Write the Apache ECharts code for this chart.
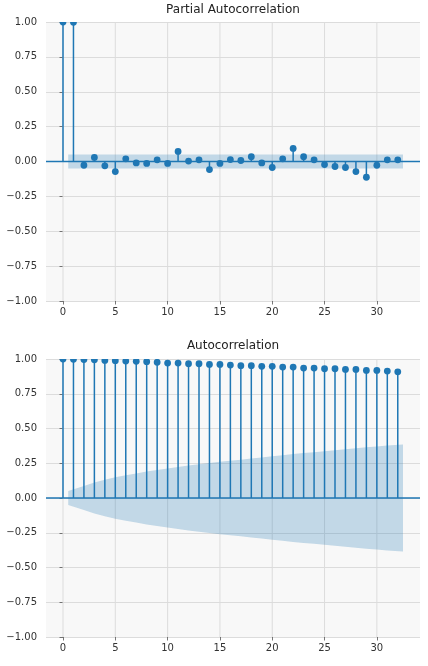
<!DOCTYPE html>
<html><head><meta charset="utf-8">
<script src="https://cdn.jsdelivr.net/npm/echarts@6/dist/echarts.min.js"></script>
<style>html,body{margin:0;padding:0;background:#fff}#c{width:428px;height:666px}</style>
</head><body><div id="c"></div>
<script>
// ---- data ----
const lags = [0,1,2,3,4,5,6,7,8,9,10,11,12,13,14,15,16,17,18,19,20,21,22,23,24,25,26,27,28,29,30,31,32];
const pacfValues = [1.0,0.998,-0.027,0.029,-0.031,-0.072,0.019,-0.010,-0.014,0.012,-0.014,0.072,0.003,0.012,-0.058,
  -0.014,0.014,0.007,0.034,-0.010,-0.043,0.019,0.094,0.034,0.012,-0.022,-0.036,-0.043,-0.072,-0.113,-0.027,0.012,0.012];
const acfValues = [1.0,0.998,0.996,0.994,0.990,0.988,0.985,0.983,0.981,0.976,0.971,0.971,0.966,0.966,0.961,
  0.961,0.956,0.952,0.952,0.947,0.947,0.942,0.942,0.935,0.935,0.930,0.930,0.925,0.925,0.918,0.918,0.913,0.908];
// confidence band half-widths for lags 1..32
const pacfBand = [0.05,0.05,0.05,0.05,0.05,0.05,0.05,0.05,0.05,0.05,0.05,0.05,0.05,0.05,0.05,0.05,
  0.05,0.05,0.05,0.05,0.05,0.05,0.05,0.05,0.05,0.05,0.05,0.05,0.05,0.05,0.05,0.05];
const acfBand = [0.050,0.087,0.112,0.132,0.149,0.164,0.177,0.190,0.202,0.213,0.223,0.233,0.242,0.251,0.260,0.268,
  0.276,0.284,0.291,0.300,0.308,0.316,0.323,0.330,0.337,0.344,0.351,0.358,0.365,0.371,0.378,0.385];
const xTickValues = [0,5,10,15,20,25,30];
const titles = ['Partial Autocorrelation','Autocorrelation'];

// ---- style ----
const BLUE = '#1f77b4';
const X_MIN = -1.625, X_MAX = 34.125;
const grids = [
  {left:46, top:22, width:374, height:279, backgroundColor:'#f8f8f8', show:true, borderWidth:0},
  {left:46, top:359, width:374, height:278, backgroundColor:'#f8f8f8', show:true, borderWidth:0}
];
const fmtY = v => (v < 0 ? '\u2212' : '') + Math.abs(v).toFixed(2);

function axesFor(i){
  return {
    x: {
      type:'value', gridIndex:i, min:X_MIN, max:X_MAX,
      axisLine:{show:false, onZero:false},
      axisTick:{show:true, length:3.5, lineStyle:{color:'#555', width:0.8}, customValues:xTickValues},
      axisLabel:{customValues:xTickValues, margin:6, color:'#333', fontSize:10, fontFamily:'DejaVu Sans'},
      splitLine:{show:false}
    },
    y: {
      type:'value', gridIndex:i, min:-1, max:1, interval:0.25,
      axisLine:{show:false},
      axisTick:{show:true, length:3.5, lineStyle:{color:'#555', width:0.8}},
      axisLabel:{formatter:fmtY, margin:9, color:'#333', fontSize:10, fontFamily:'DejaVu Sans'},
      splitLine:{show:true, lineStyle:{color:'#dcdcdc', width:1}}
    }
  };
}

function seriesFor(i, values, band){
  const out = [];
  // vertical grid lines
  out.push({
    type:'custom', xAxisIndex:i, yAxisIndex:i, z:1, silent:true,
    data: xTickValues.map(v => [v]),
    renderItem:(p, api) => {
      const a = api.coord([api.value(0), -1]);
      const b = api.coord([api.value(0), 1]);
      return {type:'line', shape:{x1:a[0],y1:a[1],x2:b[0],y2:b[1]}, style:{stroke:'#dcdcdc', lineWidth:1}};
    }
  });
  // confidence band
  const bx = lags.slice(1).map((l, k, arr) => k === 0 ? l - 0.5 : (k === arr.length - 1 ? l + 0.5 : l));
  out.push({
    type:'custom', xAxisIndex:i, yAxisIndex:i, z:2, silent:true,
    data:[[0]],
    renderItem:(p, api) => {
      const pts = [];
      for (let k = 0; k < bx.length; k++) pts.push(api.coord([bx[k], band[k]]));
      for (let k = bx.length - 1; k >= 0; k--) pts.push(api.coord([bx[k], -band[k]]));
      return {type:'polygon', shape:{points:pts}, style:{fill:'rgba(31,119,180,0.25)'}};
    }
  });
  // zero line
  out.push({
    type:'custom', xAxisIndex:i, yAxisIndex:i, z:3, silent:true,
    data:[[0]],
    renderItem:(p, api) => {
      const a = api.coord([X_MIN, 0]);
      const b = api.coord([X_MAX, 0]);
      return {type:'line', shape:{x1:a[0],y1:a[1],x2:b[0],y2:b[1]}, style:{stroke:BLUE, lineWidth:1.5}};
    }
  });
  // stems + markers
  out.push({
    type:'custom', xAxisIndex:i, yAxisIndex:i, z:4, clip:true, silent:true,
    data: lags.map((l, k) => [l, values[k]]),
    renderItem:(p, api) => {
      const a = api.coord([api.value(0), 0]);
      const b = api.coord([api.value(0), api.value(1)]);
      return {type:'group', children:[
        {type:'line', shape:{x1:a[0],y1:a[1],x2:b[0],y2:b[1]}, style:{stroke:BLUE, lineWidth:1.5}},
        {type:'circle', shape:{cx:b[0], cy:b[1], r:3.4}, style:{fill:BLUE}}
      ]};
    }
  });
  return out;
}

const a0 = axesFor(0), a1 = axesFor(1);
const option = {
  animation:false,
  backgroundColor:'#ffffff',
  title:[
    {text:titles[0], left:233, top:4, textAlign:'center', padding:0,
     textStyle:{fontSize:12, fontWeight:'normal', color:'#222', fontFamily:'DejaVu Sans'}},
    {text:titles[1], left:233, top:340, textAlign:'center', padding:0,
     textStyle:{fontSize:12, fontWeight:'normal', color:'#222', fontFamily:'DejaVu Sans'}}
  ],
  grid:grids,
  xAxis:[a0.x, a1.x],
  yAxis:[a0.y, a1.y],
  series:[...seriesFor(0, pacfValues, pacfBand), ...seriesFor(1, acfValues, acfBand)]
};
const chart = echarts.init(document.getElementById('c'), null, {renderer:'canvas'});
chart.setOption(option);
</script>
</body></html>
